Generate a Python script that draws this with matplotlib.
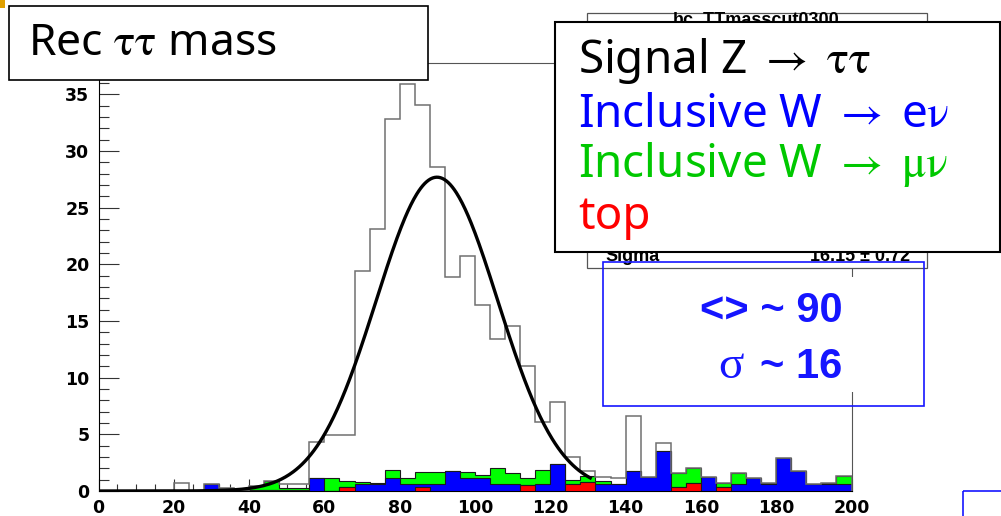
import numpy as np
import matplotlib
matplotlib.use("Agg")
import matplotlib.pyplot as plt
from matplotlib.patches import Rectangle
from matplotlib.ticker import MultipleLocator

plt.rcParams['mathtext.fontset'] = 'stix'

# ---------------- data (bins of 4 GeV from 0 to 200) ----------------
bin_edges = np.arange(0, 201, 4)

# all events (signal + backgrounds), outline histogram
all_events = [0, 0, 0, 0, 0, 0.68, 0, 0.59, 0.24, 0.10,
              0.47, 0.91, 0.65, 0.65, 4.30, 4.90, 4.90, 19.45, 23.10, 32.80,
              35.90, 34.10, 28.60, 18.90, 20.70, 16.40, 13.40, 14.60, 11.00, 6.10,
              7.90, 3.03, 1.80, 1.21, 1.15, 6.65, 1.21, 4.27, 1.62, 2.06,
              1.21, 0.74, 1.62, 1.18, 0.74, 2.94, 1.79, 0.59, 0.74, 1.35]

# top background
top_bkg = [0, 0, 0, 0, 0, 0, 0, 0, 0, 0.10,
           0.10, 0.10, 0.10, 0.10, 0, 0, 0.32, 0, 0, 0,
           0, 0.32, 0, 0, 0, 0, 0, 0, 0.56, 0,
           0, 0.59, 0.77, 0, 0, 0, 0, 0, 0.38, 0.74,
           0, 0.38, 0, 0, 0, 0, 0, 0, 0, 0]

# inclusive W -> e nu
wenu_bkg = [0, 0, 0, 0, 0, 0, 0, 0.59, 0, 0,
            0, 0, 0, 0, 1.18, 0, 0, 0.59, 0.59, 1.18,
            0.59, 0.27, 0.59, 1.79, 1.18, 1.15, 0.59, 0.59, 0, 0.59,
            2.35, 0, 0, 0.59, 0.59, 1.77, 1.21, 3.53, 0, 0,
            1.21, 0, 0.59, 1.18, 0.59, 2.94, 1.79, 0.59, 0.59, 0.59]

# inclusive W -> mu nu
wmunu_bkg = [0, 0, 0, 0, 0, 0, 0, 0, 0.24, 0,
             0.37, 0.81, 0.14, 0.14, 0, 1.18, 0.56, 0.21, 0.11, 0.67,
             0.53, 1.06, 1.06, 0, 0.47, 0.23, 1.47, 1.03, 0.62, 1.23,
             0, 0.38, 0.58, 0.32, 0, 0, 0, 0, 1.24, 1.32,
             0, 0.36, 1.03, 0, 0.15, 0, 0, 0, 0.15, 0.76]

# Gaussian fit parameters
fit_const, fit_mean, fit_sigma = 27.7, 89.9, 16.15
fit_range = (0, 131)

x_major_ticks = [0, 20, 40, 60, 80, 100, 120, 140, 160, 180, 200]
y_major_ticks = [0, 5, 10, 15, 20, 25, 30, 35]

legend_entries = [r"Signal Z $\rightarrow$ $\mathrm{\tau\tau}$",
                  r"Inclusive W $\rightarrow$ e$\mathrm{\nu}$",
                  r"Inclusive W $\rightarrow$ $\mathrm{\mu\nu}$",
                  "top"]
legend_colors = ["black", "#0000ff", "#00c800", "#ff0000"]

# ---------------- figure ----------------
W, H = 1001, 516
fig = plt.figure(figsize=(W / 100, H / 100), dpi=100)
ax = fig.add_axes([98.5 / W, (H - 491) / H, 753 / W, 428 / H])
ax.set_xlim(0, 200)
ax.set_ylim(0, 37.78)

top_arr = np.array(top_bkg)
blue_cum = top_arr + np.array(wenu_bkg)
green_cum = blue_cum + np.array(wmunu_bkg)

ax.stairs(green_cum, bin_edges, fill=True, facecolor="#00ff00", edgecolor="#1a1a1a", lw=0.8, zorder=2)
ax.stairs(blue_cum, bin_edges, fill=True, facecolor="#0000ff", edgecolor="#1a1a1a", lw=0.8, zorder=3)
ax.stairs(top_arr, bin_edges, fill=True, facecolor="#ff0000", edgecolor="#1a1a1a", lw=0.8, zorder=4)
ax.stairs(all_events, bin_edges, fill=False, color="#707070", lw=1.1, zorder=5)

xf = np.linspace(fit_range[0], fit_range[1], 500)
yf = fit_const * np.exp(-0.5 * ((xf - fit_mean) / fit_sigma) ** 2)
ax.plot(xf, yf, color="black", lw=2.4, zorder=6, solid_capstyle="butt")

ax.set_xticks(x_major_ticks)
ax.set_yticks(y_major_ticks)
ax.xaxis.set_minor_locator(MultipleLocator(5))
ax.yaxis.set_minor_locator(MultipleLocator(1))
ax.tick_params(axis="both", which="both", direction="in", top=False, right=False,
               width=0.8, color="#333333")
ax.tick_params(axis="x", which="major", length=9, pad=5.5)
ax.tick_params(axis="x", which="minor", length=4.8)
ax.tick_params(axis="y", which="major", length=14.4, pad=6.5)
ax.tick_params(axis="y", which="minor", length=7.2)
for lab in ax.get_xticklabels() + ax.get_yticklabels():
    lab.set_fontfamily("DejaVu Sans")
    lab.set_fontweight("bold")
    lab.set_fontsize(12.5)
for s in ["left", "bottom"]:
    ax.spines[s].set_color("black")
    ax.spines[s].set_linewidth(0.8)
for s in ["top", "right"]:
    ax.spines[s].set_color("#555555")
    ax.spines[s].set_linewidth(0.8)

# ---------------- overlay (pixel coordinates) ----------------
ov = fig.add_axes([0, 0, 1, 1], zorder=10)
ov.set_xlim(0, W)
ov.set_ylim(H, 0)
ov.axis("off")
ov.patch.set_alpha(0)

# statistics box (mostly hidden)
ov.add_patch(Rectangle((587, 13.3), 339.5, 255, fc="white", ec="#555555", lw=0.9, zorder=1))
ov.text(756, 24, "hc_TTmasscut0300", ha="center", va="baseline", fontsize=13,
        fontweight="bold", family="Liberation Sans", zorder=1.5)
ov.text(605, 261, "Sigma", ha="left", va="baseline", fontsize=13,
        fontweight="bold", family="Liberation Sans", zorder=1.5)
ov.text(910, 261, "16.15 \u00b1 0.72", ha="right", va="baseline", fontsize=13,
        fontweight="bold", family="Liberation Sans", zorder=1.5)

# white pave behind the mean / sigma text
ov.add_patch(Rectangle((610, 277), 305, 115, fc="white", ec="none", zorder=1.6))
# blue box
ov.add_patch(Rectangle((603, 262.3), 320.5, 143.4, fc="none", ec="#1515ff", lw=1.2, zorder=2))
ov.text(843, 321.7, "<> ~ 90", ha="right", va="baseline", fontsize=30, color="#1515ff",
        fontweight="bold", family="Liberation Sans", zorder=2.5)
ov.text(842, 378.3, "~ 16", ha="right", va="baseline", fontsize=30, color="#1515ff",
        fontweight="bold", family="Liberation Sans", zorder=2.5)
ov.text(718, 378.3, "\u03c3", ha="left", va="baseline", fontsize=34, color="#1515ff",
        family="Liberation Serif", zorder=2.5)

# legend box
ov.add_patch(Rectangle((555, 22), 445, 229.7, fc="white", ec="black", lw=1.5, zorder=3))
baselines = [73, 126.7, 176.7, 229]
for txt, col, yb in zip(legend_entries, legend_colors, baselines):
    ov.text(578, yb, txt, ha="left", va="baseline", fontsize=33, color=col,
            family="Noto Sans", zorder=3.5)

# title box
ov.add_patch(Rectangle((9, 5.7), 418.7, 74.3, fc="white", ec="black", lw=1.2, zorder=3))
ov.text(28, 55, r"Rec $\mathrm{\tau\tau}$ mass", ha="left", va="baseline", fontsize=32,
        color="black", family="Noto Sans", zorder=3.5)

# small decorations
ov.add_patch(Rectangle((963, 491), 50, 40, fc="none", ec="#1515ff", lw=1.2, zorder=3))
ov.add_patch(Rectangle((0, 0), 5, 7.5, fc="#e0a000", ec="none", zorder=3))

fig.savefig("out.png", dpi=100)
